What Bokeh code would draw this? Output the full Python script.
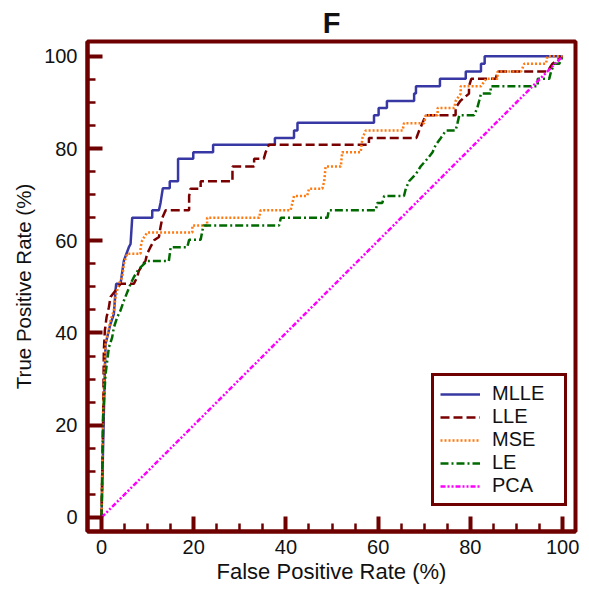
from bokeh.plotting import figure
from bokeh.models import FixedTicker, Legend, LegendItem, Range1d
from bokeh.embed import file_html
from bokeh.resources import INLINE

# ---- data ----
mlle_fpr = [0, 0.5, 0.87, 1.95, 2.68, 3.04, 3.18, 4.12, 4.85, 5.93, 6.3, 6.66, 11.0, 11.0, 12.45, 12.8, 13.3, 14.8, 14.8,
            16.6, 16.6, 19.9, 19.9, 24.2, 24.2, 37.6, 37.6, 41.75, 41.75, 42.5, 42.5, 59.1, 59.1, 60.1, 60.1, 61.9, 61.9,
            67.8, 67.8, 68.2, 68.2, 73.4, 73.4, 79.0, 79.0, 82.3, 82.3, 83.1, 83.1, 100]
mlle_tpr = [0, 22.4, 37.6, 42, 44.1, 49.2, 50.65, 50.65, 55.7, 58.6, 59.3, 65.0, 65.0, 66.6, 66.6, 68.2, 71.4, 71.4, 72.9,
            72.9, 77.8, 77.8, 79.2, 79.2, 80.8, 80.8, 82.3, 82.3, 83.9, 83.9, 85.6, 85.6, 87.2, 87.2, 88.8, 88.8, 90.3,
            90.3, 91.9, 91.9, 93.5, 93.5, 95.1, 95.1, 96.7, 96.7, 98.4, 98.4, 100, 100]

lle_fpr = [0, 0.36, 0.5, 0.72, 1.09, 1.6, 1.95, 3.04, 4.12, 7.0, 7.74, 8.1, 9.55, 9.9, 10.6, 11.4, 12.45, 12.8, 13.2, 13.9,
           19.0, 19.0, 19.3, 21.5, 21.5, 28.4, 28.4, 33.1, 33.1, 35.2, 35.6, 36.3, 58.0, 58.0, 68.3, 68.9, 69.6, 70.3,
           76.8, 76.8, 77.8, 79.7, 79.7, 80.2, 85.5, 85.9, 96.7, 97.8, 100]
lle_tpr = [0, 22, 36, 40.5, 43.4, 45.6, 47.8, 49.2, 50.65, 50.65, 52.1, 53.5, 55.7, 57.2, 58.6, 60.1, 60.8, 63, 65, 66.6,
           66.6, 69.7, 71.3, 71.3, 72.9, 72.9, 76.1, 76.1, 77.8, 77.8, 79.2, 80.8, 80.8, 82.3, 82.3, 83.9, 85.5, 87.2,
           87.2, 88.8, 90.3, 91.9, 93.5, 95.1, 95.1, 96.7, 96.7, 98.4, 100]

mse_fpr = [0, 0.36, 0.87, 1.95, 2.68, 3.04, 3.76, 4.49, 4.85, 5.57, 8.47, 8.47, 8.83, 9.9, 19.7, 19.7, 22.9, 22.9, 34.2,
           34.5, 41.0, 41.4, 41.75, 44.6, 45.0, 47.9, 48.3, 48.6, 51.9, 52.2, 56.2, 56.6, 57.3, 65.3, 65.6, 70.0, 70.3,
           72.9, 72.9, 76.5, 76.8, 77.9, 77.9, 82.3, 83.4, 85.9, 85.9, 91.0, 91.7, 96.4, 96.7, 100]
mse_tpr = [0, 24, 37.6, 42.7, 44.9, 47.8, 50.65, 52.1, 55.0, 57.2, 57.2, 58.6, 60.1, 61.8, 61.8, 63.3, 63.3, 65.0, 65.0,
           66.6, 66.6, 68.2, 69.7, 69.7, 71.3, 71.3, 72.9, 76.1, 76.1, 79.2, 79.2, 82.3, 83.9, 83.9, 85.5, 85.5, 87.2,
           87.2, 88.8, 88.8, 90.3, 91.9, 93.5, 93.5, 95.1, 95.1, 96.7, 96.7, 98.4, 98.4, 100, 100]

le_fpr = [0, 0.36, 0.87, 1.6, 2.3, 2.68, 3.4, 4.12, 4.85, 5.57, 6.3, 7.0, 8.1, 9.9, 14.6, 15.0, 18.6, 19.0, 21.5, 22.1,
          38.5, 38.9, 49.0, 49.3, 59.5, 59.8, 60.9, 61.3, 65.6, 66.0, 66.7, 68.2, 69.2, 70.7, 71.8, 72.5, 73.6, 74.7,
          76.8, 77.2, 77.6, 80.8, 81.5, 81.9, 82.3, 84.4, 84.4, 94.6, 94.6, 97.1, 97.5, 98.2, 99.3, 100]
le_tpr = [0, 22.4, 31, 36.9, 39, 41.2, 43.4, 44.9, 47, 48.8, 50.65, 52.1, 53.9, 55.6, 55.6, 58.6, 58.6, 60.2, 60.2, 63.3,
          63.3, 65.0, 65.0, 66.6, 66.6, 68.2, 68.2, 69.7, 69.7, 71.3, 72.9, 74.5, 76.1, 77.8, 79.2, 80.8, 82.3, 83.9,
          83.9, 85.5, 87.2, 87.2, 88.8, 90.3, 91.9, 91.9, 93.5, 93.5, 95.1, 95.1, 96.7, 98.4, 98.4, 100]

pca_fpr = [0, 100]
pca_tpr = [0, 100]

series_names = ["MLLE", "LLE", "MSE", "LE", "PCA"]
major_ticks = [0, 20, 40, 60, 80, 100]
minor_ticks = [5, 10, 15, 25, 30, 35, 45, 50, 55, 65, 70, 75, 85, 90, 95]
title_text = "F"

DARK = "#6E0000"
FONT = "Liberation Sans"
INK = "#111111"

p = figure(width=589, height=590, output_backend="svg", toolbar_location=None,
           x_range=Range1d(-3.04, 102.8), y_range=Range1d(-3.04, 103.2),
           min_border_left=87, min_border_right=14, min_border_top=41, min_border_bottom=59)

p.title.text = title_text
p.title.align = "center"
p.title.text_font = FONT
p.title.text_font_size = "29px"
p.title.text_font_style = "bold"
p.title.text_color = INK
p.title.standoff = 6

p.outline_line_color = DARK
p.outline_line_width = 4
p.outline_line_alpha = 1
p.xgrid.visible = False
p.ygrid.visible = False
p.background_fill_color = "white"
p.border_fill_color = "white"

for ax in (p.xaxis[0], p.yaxis[0]):
    ax.ticker = FixedTicker(ticks=major_ticks, minor_ticks=minor_ticks)
    ax.axis_line_color = DARK
    ax.axis_line_width = 4
    ax.major_tick_line_color = DARK
    ax.major_tick_line_width = 4
    ax.major_tick_in = 15
    ax.major_tick_out = 0
    ax.minor_tick_line_color = DARK
    ax.minor_tick_line_width = 2.5
    ax.minor_tick_in = 8
    ax.minor_tick_out = 0
    ax.major_label_text_font = FONT
    ax.major_label_text_font_size = "20px"
    ax.major_label_text_color = INK
    ax.axis_label_text_font = FONT
    ax.axis_label_text_font_style = "normal"
    ax.axis_label_text_color = INK

p.xaxis[0].axis_label = "False Positive Rate (%)"
p.yaxis[0].axis_label = "True Positive Rate (%)"
p.xaxis[0].axis_label_text_font_size = "22px"
p.yaxis[0].axis_label_text_font_size = "20.5px"
p.xaxis[0].major_label_standoff = 8
p.xaxis[0].axis_label_standoff = 2
p.yaxis[0].major_label_standoff = 10
p.yaxis[0].axis_label_standoff = 6

r_mlle = p.line(mlle_fpr, mlle_tpr, line_color="#3838A4", line_width=2.5)
r_lle = p.line(lle_fpr, lle_tpr, line_color="#7A0000", line_width=2.5, line_dash="9 4")
r_mse = p.line(mse_fpr, mse_tpr, line_color="#FF7A10", line_width=2.5, line_dash="2 2")
r_le = p.line(le_fpr, le_tpr, line_color="#006A00", line_width=2.5, line_dash="8 3 2 3")
r_pca = p.line(pca_fpr, pca_tpr, line_color="#FF00FF", line_width=2.5, line_dash="5 2 2 2 2 2")

renderers = [r_mlle, r_lle, r_mse, r_le, r_pca]
legend = Legend(items=[LegendItem(label=n, renderers=[r]) for n, r in zip(series_names, renderers)],
                location=(344, 25), border_line_color=DARK, border_line_width=3, border_line_alpha=1,
                background_fill_color="white", background_fill_alpha=1,
                padding=6, spacing=0, margin=0, glyph_width=40, glyph_height=20, label_height=20,
                label_standoff=12, label_width=66, label_text_line_height=1.0,
                label_text_font=FONT, label_text_font_size="20px", label_text_color=INK)
p.add_layout(legend, "center")

open("out.html", "w").write(file_html(p, INLINE))
